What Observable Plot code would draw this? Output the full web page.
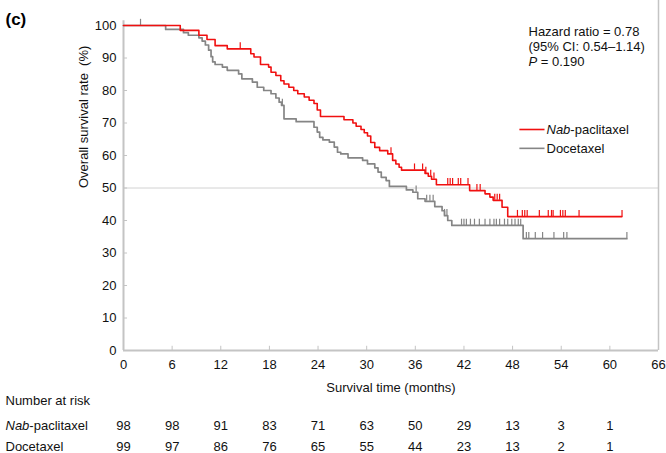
<!DOCTYPE html>
<html><head><meta charset="utf-8">
<script src="https://cdn.jsdelivr.net/npm/d3@7"></script>
<script src="https://cdn.jsdelivr.net/npm/@observablehq/plot@0.6"></script>
<style>
body{margin:0;background:#fff;font-family:"Liberation Sans",Arial,sans-serif;}
#chart{width:666px;height:453px;}
</style></head><body><div id="chart"></div>
<script>
// ---- data ----
const monthTicks = [0, 6, 12, 18, 24, 30, 36, 42, 48, 54, 60, 66];
const rateTicks = [0, 10, 20, 30, 40, 50, 60, 70, 80, 90, 100];

const nabTime = [0, 7.0, 9.3, 10.3, 11.3, 12.8, 15.7, 16.1, 16.9, 17.9, 18.2, 18.8, 19.4, 19.8, 20.4, 21.0, 21.5, 22.3, 22.9, 23.5, 23.9, 24.3, 27.2, 28.3, 28.7, 29.3, 29.7, 30.1, 30.5, 31.0, 31.6, 32.6, 33.2, 33.6, 34.0, 34.3, 37.2, 37.6, 38.0, 38.6, 42.7, 44.6, 45.2, 45.6, 46.7, 47.4];
const nabSurv = [100, 98.5, 97, 95.7, 93.8, 92.8, 91.3, 90.3, 88, 87.2, 85.6, 84.6, 83, 82, 81, 80, 79, 78, 77, 76, 74, 72, 71, 70, 69, 68, 67, 66, 64, 62.5, 61.5, 60.5, 58.5, 57.4, 56.4, 55.5, 54.5, 53.6, 52.7, 51, 49.2, 48.2, 47.2, 46.2, 44.1, 41.2];
const nabCensor = [14.4, 33.0, 35.9, 36.9, 37.3, 37.9, 38.3, 40.0, 40.3, 40.6, 41.3, 41.6, 42.5, 43.6, 44.0, 45.8, 46.1, 46.4, 48.6, 49.2, 49.5, 49.8, 51.3, 52.4, 52.8, 53.0, 53.9, 54.2, 54.5, 56.2, 61.5];

const docTime = [0, 5.2, 7.4, 8.0, 9.3, 9.7, 10.1, 10.5, 10.8, 11.0, 11.3, 12.2, 12.8, 14.2, 14.6, 15.9, 16.5, 17.3, 18.2, 18.8, 19.2, 19.5, 19.8, 21.3, 23.5, 23.9, 24.2, 24.6, 25.4, 26.0, 26.4, 26.8, 27.7, 29.5, 30.1, 31.0, 31.4, 31.8, 32.4, 32.8, 34.9, 35.7, 36.3, 37.2, 38.4, 39.3, 39.6, 40.0, 40.5, 49.3];
const docSurv = [100, 98.8, 97.8, 97, 96.2, 95.2, 94, 92.4, 90.4, 88.8, 88, 87.2, 86.2, 85.1, 83.6, 82.6, 81, 80, 79, 77.7, 76.4, 75.4, 71.3, 70.4, 68.7, 67.2, 65.6, 64.8, 64.1, 62.6, 61, 60.5, 59.3, 58.5, 57.4, 56.2, 54.9, 53.3, 52.3, 50.5, 49.4, 48.7, 46.7, 45.9, 44.3, 43, 41.5, 40, 38.5, 34.4];
const docCensor = [2.1, 19.6, 36.1, 37.4, 37.8, 38.2, 39.6, 39.9, 41.7, 42.0, 42.3, 42.8, 43.3, 43.9, 44.6, 45.2, 45.7, 46.0, 46.4, 47.0, 47.4, 47.9, 48.3, 48.7, 49.0, 49.7, 50.0, 50.8, 51.7, 53.1, 54.3, 54.7, 62.1];

const riskTimes = [0, 6, 12, 18, 24, 30, 36, 42, 48, 54, 60];
const nabRisk = [98, 98, 91, 83, 71, 63, 50, 29, 13, 3, 1];
const docRisk = [99, 97, 86, 76, 65, 55, 44, 23, 13, 2, 1];

const seriesNames = ["Nab-paclitaxel", "Docetaxel"];
const annotation = ["Hazard ratio = 0.78", "(95% CI: 0.54\u20131.14)", "P = 0.190"];

// ---- helpers ----
const RED = "#f01010", GREY = "#858585", AXIS = "#c4c4c4", INK = "#111";
function curve(times, surv, end) {
  const pts = times.map((t, i) => ({t, s: surv[i]}));
  pts.push({t: end, s: surv[surv.length - 1]});
  return pts;
}
function survAt(times, surv, t) {
  let s = surv[0];
  for (let i = 0; i < times.length; i++) if (times[i] <= t) s = surv[i];
  return s;
}
const nabCurve = curve(nabTime, nabSurv, d3.max(nabCensor));
const docCurve = curve(docTime, docSurv, d3.max(docCensor));
const nabMarks = nabCensor.map(t => ({t, s: survAt(nabTime, nabSurv, t)}));
const docMarks = docCensor.map(t => ({t, s: survAt(docTime, docSurv, t)}));

const FONT = "Liberation Sans, Arial, Helvetica, sans-serif";
const txt = (o) => Object.assign({lineAnchor: "middle", textAnchor: "start", fontSize: 13, fill: INK}, o);

const chart = Plot.plot({
  width: 666, height: 453,
  marginLeft: 123, marginRight: 8, marginTop: 25, marginBottom: 103,
  style: {fontFamily: FONT, fontSize: "13px", color: INK, background: "#fff", overflow: "visible"},
  x: {domain: [0, 66], label: null},
  y: {domain: [0, 100], label: null},
  marks: [
    Plot.ruleY([50], {stroke: "#d2d2d2", strokeWidth: 1}),
    Plot.ruleX([0], {y1: 0, y2: 101.5, stroke: AXIS, strokeWidth: 2}),
    Plot.ruleY([0], {stroke: AXIS, strokeWidth: 2}),
    Plot.ruleX([66], {y1: 0, y2: 108, stroke: AXIS, strokeWidth: 1.5}),
    Plot.ruleY(rateTicks, {x1: 0, x2: 0.5, stroke: AXIS, strokeWidth: 1}),
    Plot.ruleX(monthTicks, {y1: 0, y2: 1.3, stroke: AXIS, strokeWidth: 1}),
    Plot.axisY({ticks: rateTicks, tickSize: 0, tickPadding: 7, label: null, fontSize: 13}),
    Plot.axisX({ticks: monthTicks, tickSize: 0, tickPadding: 9, label: null, fontSize: 13}),
    // survival curves
    Plot.line(docCurve, {x: "t", y: "s", curve: "step-after", stroke: GREY, strokeWidth: 1.7}),
    Plot.ruleX(docMarks, {x: "t", y1: "s", y2: d => d.s + 1.9, stroke: GREY, strokeWidth: 1.2}),
    Plot.line(nabCurve, {x: "t", y: "s", curve: "step-after", stroke: RED, strokeWidth: 1.6}),
    Plot.ruleX(nabMarks, {x: "t", y1: "s", y2: d => d.s + 1.9, stroke: RED, strokeWidth: 1.2}),
    // axis titles
    Plot.text(["Overall survival rate  (%)"], {frameAnchor: "left", dx: -40, rotate: -90, fontSize: 13, fill: INK}),
    Plot.text(["Survival time (months)"], {frameAnchor: "bottom", dy: 37, lineAnchor: "middle", fontSize: 13, fill: INK}),
    // panel label
    Plot.text(["(c)"], txt({frameAnchor: "top-left", dx: -118, dy: -6, fontSize: 17, fontWeight: "bold", fill: "#000"})),
    // annotation
    Plot.text([annotation[0]], txt({frameAnchor: "top-left", dx: 405, dy: 6})),
    Plot.text([annotation[1]], txt({frameAnchor: "top-left", dx: 405, dy: 21})),
    Plot.text([annotation[2]], txt({frameAnchor: "top-left", dx: 405, dy: 36})),
    // legend
    Plot.ruleY([68], {x1: 48.9, x2: 52.0, stroke: RED, strokeWidth: 1.6}),
    Plot.ruleY([62.2], {x1: 48.9, x2: 52.0, stroke: GREY, strokeWidth: 1.6}),
    Plot.text([seriesNames[0]], txt({frameAnchor: "top-left", dx: 423, dy: 104})),
    Plot.text([seriesNames[1]], txt({frameAnchor: "top-left", dx: 423, dy: 123})),
    // number at risk table
    Plot.text(["Number at risk"], txt({frameAnchor: "bottom-left", dx: -118, dy: 50})),
    Plot.text([seriesNames[0]], txt({frameAnchor: "bottom-left", dx: -118, dy: 75})),
    Plot.text([seriesNames[1]], txt({frameAnchor: "bottom-left", dx: -118, dy: 96})),
    Plot.text(nabRisk, {x: (d, i) => riskTimes[i], text: d => String(d), frameAnchor: "bottom", dy: 75, lineAnchor: "middle", fontSize: 13, fill: INK}),
    Plot.text(docRisk, {x: (d, i) => riskTimes[i], text: d => String(d), frameAnchor: "bottom", dy: 96, lineAnchor: "middle", fontSize: 13, fill: INK})
  ]
});

// italic parts: "Nab" and "P"
d3.select(chart).selectAll("text").each(function () {
  const s = this.textContent;
  if (s === "Nab-paclitaxel" || s === "P = 0.190") {
    const head = s === "P = 0.190" ? "P" : "Nab";
    const el = d3.select(this);
    el.text(null);
    el.append("tspan").attr("font-style", "italic").text(head);
    el.append("tspan").text(s.slice(head.length));
  }
});
document.getElementById("chart").appendChild(chart);
</script></body></html>
